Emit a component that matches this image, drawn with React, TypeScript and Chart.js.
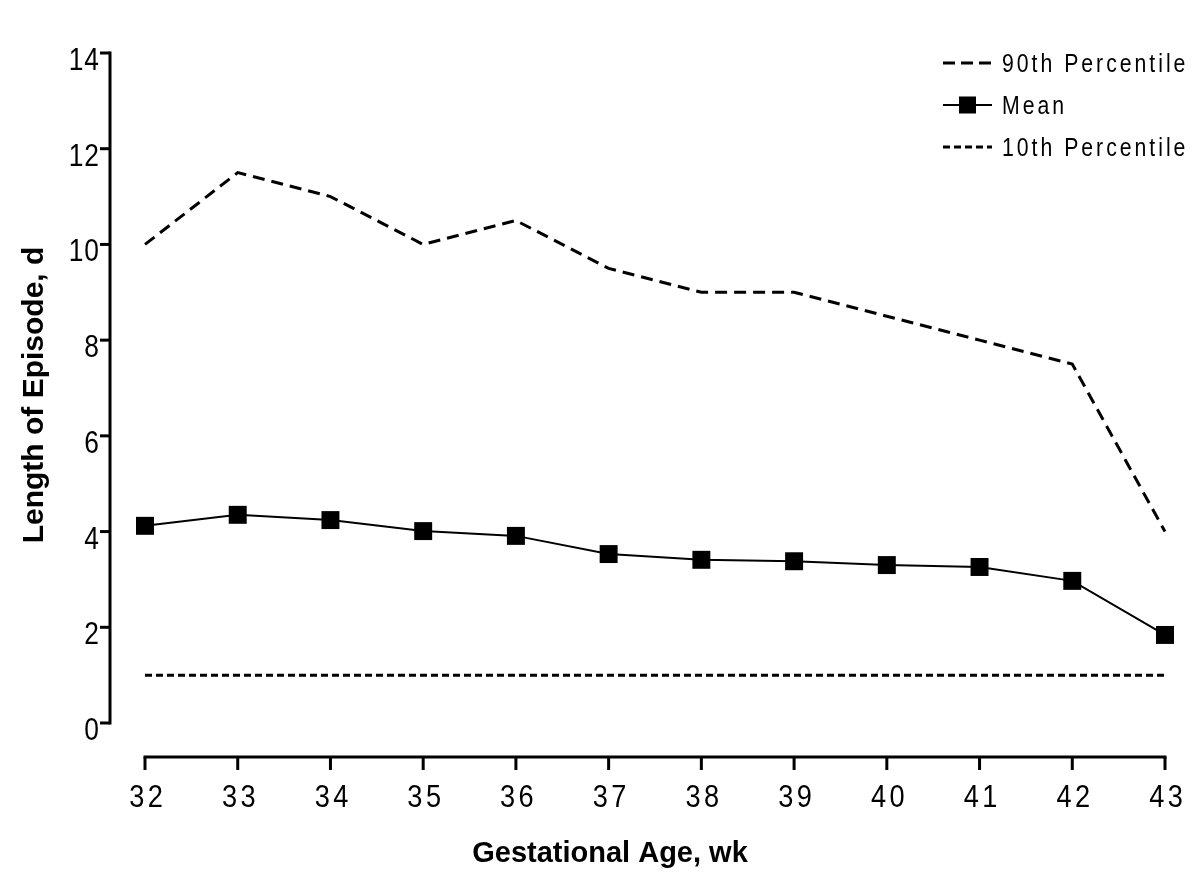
import React, { useEffect, useRef } from "react";
import { Chart, registerables } from "chart.js";

Chart.register(...registerables);

const weeks = [32, 33, 34, 35, 36, 37, 38, 39, 40, 41, 42, 43];
const p90 = [10, 11.5, 11, 10, 10.5, 9.5, 9, 9, 8.5, 8, 7.5, 4];
const meanVals = [4.12, 4.35, 4.24, 4.01, 3.91, 3.53, 3.41, 3.38, 3.3, 3.26, 2.97, 1.84];
const p10 = [1, 1, 1, 1, 1, 1, 1, 1, 1, 1, 1, 1];
const yTicks = [0, 2, 4, 6, 8, 10, 12, 14];
const legendLabels = ["90th Percentile", "Mean", "10th Percentile"];
const xTitle = "Gestational Age, wk";
const yTitle = "Length of Episode, d";

const SANS = "'Liberation Sans', Arial, Helvetica, sans-serif";

function drawNarrow(
  ctx: CanvasRenderingContext2D,
  text: string,
  x: number,
  y: number,
  size: number,
  sx: number,
  spacing: number,
  align: "left" | "right" | "center"
) {
  ctx.save();
  ctx.font = `${size}px ${SANS}`;
  (ctx as any).letterSpacing = `${spacing}px`;
  ctx.textAlign = "left";
  ctx.textBaseline = "alphabetic";
  const w = (ctx.measureText(text).width - spacing) * sx;
  let left = x;
  if (align === "right") left = x - w;
  else if (align === "center") left = x - w / 2;
  ctx.translate(left, y);
  ctx.scale(sx, 1);
  ctx.fillText(text, 0, 0);
  ctx.restore();
}

const axesPlugin = {
  id: "prismAxes",
  afterDraw(chart: any) {
    const ctx = chart.ctx as CanvasRenderingContext2D;
    const xs = chart.scales.x;
    const ys = chart.scales.y;
    const area = chart.chartArea;
    const yAxisX = area.left - 35;
    const xAxisY = area.bottom + 34;
    ctx.save();
    ctx.strokeStyle = "#000";
    ctx.fillStyle = "#000";
    ctx.lineWidth = 3;
    ctx.lineCap = "butt";
    // y axis
    const yTop = ys.getPixelForValue(14);
    const yBot = ys.getPixelForValue(0);
    ctx.beginPath();
    ctx.moveTo(yAxisX, yTop - 1.5);
    ctx.lineTo(yAxisX, yBot + 1.5);
    ctx.stroke();
    ys.ticks.forEach((t: any) => {
      const py = ys.getPixelForValue(t.value);
      ctx.beginPath();
      ctx.moveTo(yAxisX - 10, py);
      ctx.lineTo(yAxisX, py);
      ctx.stroke();
      drawNarrow(ctx, String(t.value), yAxisX - 11, py + 17, 31, 0.85, 1, "right");
    });
    // x axis
    const xl = xs.getPixelForValue(weeks[0]);
    const xr = xs.getPixelForValue(weeks[weeks.length - 1]);
    ctx.beginPath();
    ctx.moveTo(xl - 1.5, xAxisY);
    ctx.lineTo(xr + 1.5, xAxisY);
    ctx.stroke();
    xs.ticks.forEach((t: any) => {
      const px = xs.getPixelForValue(t.value);
      ctx.beginPath();
      ctx.moveTo(px, xAxisY);
      ctx.lineTo(px, xAxisY + 13);
      ctx.stroke();
      drawNarrow(ctx, String(t.value), px + 1, xAxisY + 50, 32, 0.85, 4, "center");
    });
    // axis titles
    ctx.font = `bold 29px ${SANS}`;
    ctx.textAlign = "center";
    ctx.textBaseline = "alphabetic";
    ctx.fillText(xTitle, 610, 862);
    ctx.save();
    ctx.translate(43, 395);
    ctx.rotate(-Math.PI / 2);
    ctx.font = `bold 30px ${SANS}`;
    ctx.fillText(yTitle, 0, 0);
    ctx.restore();
    // legend
    const rows = [63, 105, 147];
    const lx0 = 943;
    const lx1 = 992;
    rows.forEach((ry, i) => {
      ctx.save();
      ctx.beginPath();
      if (i === 0) {
        ctx.lineWidth = 3;
        ctx.setLineDash([12, 6]);
      } else if (i === 2) {
        ctx.lineWidth = 3;
        ctx.setLineDash([7, 4]);
      } else {
        ctx.lineWidth = 2;
      }
      ctx.moveTo(lx0, ry);
      ctx.lineTo(lx1, ry);
      ctx.stroke();
      ctx.restore();
      if (i === 1) {
        const cx = (lx0 + lx1) / 2;
        ctx.fillRect(cx - 8.5, ry - 8.5, 17, 17);
      }
      drawNarrow(ctx, legendLabels[i], 1002, ry + 9, 25, 0.85, 3.5, "left");
    });
    ctx.restore();
  },
};

export default function App() {
  const ref = useRef<HTMLCanvasElement | null>(null);
  useEffect(() => {
    if (!ref.current) return;
    const mk = (arr: number[]) => weeks.map((w, i) => ({ x: w, y: arr[i] }));
    const chart = new Chart(ref.current, {
      type: "line",
      data: {
        datasets: [
          {
            label: legendLabels[0],
            data: mk(p90),
            borderColor: "#000",
            borderWidth: 3,
            borderDash: [12, 7],
            pointRadius: 0,
            fill: false,
            tension: 0,
            clip: false,
          },
          {
            label: legendLabels[1],
            data: mk(meanVals),
            borderColor: "#000",
            backgroundColor: "#000",
            borderWidth: 2,
            pointStyle: "rect",
            pointRadius: 12.7,
            pointBorderWidth: 0,
            pointBackgroundColor: "#000",
            fill: false,
            tension: 0,
            clip: false,
          },
          {
            label: legendLabels[2],
            data: mk(p10),
            borderColor: "#000",
            borderWidth: 3,
            borderDash: [7, 4],
            pointRadius: 0,
            fill: false,
            tension: 0,
            clip: false,
          },
        ],
      },
      options: {
        animation: false,
        responsive: false,
        devicePixelRatio: 1,
        layout: { padding: { left: 0, right: 35, top: 53, bottom: 0 } },
        plugins: { legend: { display: false }, tooltip: { enabled: false } },
        scales: {
          x: {
            type: "linear",
            min: weeks[0],
            max: weeks[weeks.length - 1],
            ticks: { stepSize: 1, display: false },
            grid: { display: false },
            border: { display: false },
            title: { display: false },
            afterFit: (s: any) => {
              s.height = 165;
            },
          },
          y: {
            type: "linear",
            min: 0,
            max: 14,
            afterBuildTicks: (s: any) => {
              s.ticks = yTicks.map((v) => ({ value: v }));
            },
            ticks: { display: false },
            grid: { display: false },
            border: { display: false },
            title: { display: false },
            afterFit: (s: any) => {
              s.width = 145;
            },
          },
        },
      } as any,
      plugins: [axesPlugin],
    });
    return () => chart.destroy();
  }, []);
  return (
    <div style={{ position: "fixed", left: 0, top: 0, width: 1200, height: 888, background: "#fff" }}>
      <canvas ref={ref} width={1200} height={888} style={{ width: 1200, height: 888, display: "block" }} />
    </div>
  );
}
